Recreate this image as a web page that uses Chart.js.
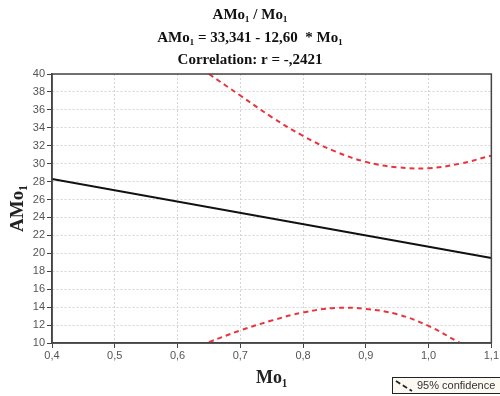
<!DOCTYPE html>
<html>
<head>
<meta charset="utf-8">
<script src="https://cdn.jsdelivr.net/npm/chart.js@4"></script>
<style>
  html, body { margin: 0; background: #fff; }
  #wrap { width: 500px; height: 396px; }
</style>
</head>
<body>
<div id="wrap"><canvas id="chart"></canvas></div>
<script>
// Títulos del gráfico
const titleLines = ['AMo₁ / Mo₁', 'AMo₁ = 33,341 - 12,60  * Mo₁', 'Correlation: r = -,2421'];
const xTitle = 'Mo₁';
const yTitle = 'AMo₁';
const legendLabel = '95% confidence';

// Recta de regresión
const fitX = [0.4, 1.1];
const fitY = [28.30, 19.48];

// Banda de confianza del 95%
const upperX = [0.65, 0.70, 0.75, 0.80, 0.85, 0.90, 0.95, 1.00, 1.05, 1.10];
const upperY = [40.0, 37.6, 35.2, 33.1, 31.4, 30.2, 29.6, 29.5, 30.0, 30.9];
const lowerX = [0.65, 0.70, 0.75, 0.80, 0.85, 0.90, 0.95, 1.00, 1.05];
const lowerY = [10.1, 11.4, 12.5, 13.4, 13.9, 13.8, 13.2, 11.9, 10.0];

// Ejes
const xMin = 0.4, xMax = 1.1, xStep = 0.1;
const yMin = 10, yMax = 40, yStep = 2;

function toPoints(xs, ys) {
  return xs.map((x, i) => ({ x: x, y: ys[i] }));
}

// Plugin: título, marco y leyenda
const decor = {
  id: 'decor',
  afterDraw(chart) {
    const ctx = chart.ctx;
    const a = chart.chartArea;
    ctx.save();
    // marco completo
    ctx.strokeStyle = '#444';
    ctx.lineWidth = 1.5;
    ctx.strokeRect(a.left, a.top, a.right - a.left, a.bottom - a.top);

    // título
    ctx.fillStyle = '#111';
    ctx.font = 'bold 15px "Liberation Serif"';
    ctx.textAlign = 'center';
    ctx.textBaseline = 'middle';
    const ys = [15, 38, 60];
    titleLines.forEach((t, i) => ctx.fillText(t, 250, ys[i]));

    // leyenda
    const lx = 392, ly = 377, lw = 120, lh = 16;
    ctx.fillStyle = '#fbf9f1';
    ctx.fillRect(lx, ly, lw, lh);
    ctx.strokeStyle = '#222';
    ctx.lineWidth = 1;
    ctx.strokeRect(lx + 0.5, ly + 0.5, lw, lh);
    ctx.setLineDash([5, 3]);
    ctx.lineWidth = 1.8;
    ctx.beginPath();
    ctx.moveTo(lx + 4, ly + 4);
    ctx.lineTo(lx + 20, ly + 14);
    ctx.stroke();
    ctx.setLineDash([]);
    ctx.fillStyle = '#333';
    ctx.font = '11px "Liberation Sans"';
    ctx.textAlign = 'left';
    ctx.fillText(legendLabel, lx + 25, ly + lh / 2 + 1);
    ctx.restore();
  }
};

const config = {
  type: 'scatter',
  data: {
    datasets: [
      {
        label: 'fit',
        data: toPoints(fitX, fitY),
        showLine: true,
        borderColor: '#111',
        borderWidth: 2,
        pointRadius: 0
      },
      {
        label: 'upper',
        data: toPoints(upperX, upperY),
        showLine: true,
        borderColor: '#e8343c',
        borderWidth: 2,
        borderDash: [5, 4],
        tension: 0.4,
        pointRadius: 0
      },
      {
        label: 'lower',
        data: toPoints(lowerX, lowerY),
        showLine: true,
        borderColor: '#e8343c',
        borderWidth: 2,
        borderDash: [5, 4],
        tension: 0.4,
        pointRadius: 0
      }
    ]
  },
  options: {
    responsive: true,
    maintainAspectRatio: false,
    animation: false,
    layout: { padding: { top: 74, right: 8, left: 0, bottom: 0 } },
    plugins: {
      legend: { display: false },
      tooltip: { enabled: false }
    },
    scales: {
      x: {
        type: 'linear',
        min: xMin,
        max: xMax,
        afterFit(scale) { scale.height = 53; },
        afterBuildTicks(scale) {
          const t = [];
          for (let v = xMin; v <= xMax + 1e-9; v += xStep) t.push({ value: Math.round(v * 10) / 10 });
          scale.ticks = t;
        },
        ticks: {
          color: '#555',
          font: { family: 'Liberation Sans', size: 11 },
          padding: 1,
          maxRotation: 0,
          callback: v => v.toFixed(1).replace('.', ',')
        },
        grid: { color: '#d4d4d4', tickColor: '#444', tickLength: 5, tickBorderDash: [] },
        border: { display: true, color: '#444', width: 1.5, dash: [2, 2] },
        title: {
          display: true,
          text: xTitle,
          color: '#222',
          font: { family: 'Liberation Serif', size: 18, weight: 'bold' },
          padding: { top: 0, bottom: 7 }
        }
      },
      y: {
        min: yMin,
        max: yMax,
        afterFit(scale) { scale.width = 52; },
        ticks: {
          stepSize: yStep,
          color: '#555',
          font: { family: 'Liberation Sans', size: 11 },
          padding: 2
        },
        grid: { color: '#d4d4d4', tickColor: '#444', tickLength: 5, tickBorderDash: [] },
        border: { display: true, color: '#444', width: 1.5, dash: [2, 2] },
        title: {
          display: true,
          text: yTitle,
          color: '#222',
          font: { family: 'Liberation Serif', size: 19, weight: 'bold' },
          padding: { top: 7, bottom: 0 }
        }
      }
    }
  },
  plugins: [decor]
};

const chart = new Chart(document.getElementById('chart'), config);
</script>
</body>
</html>
